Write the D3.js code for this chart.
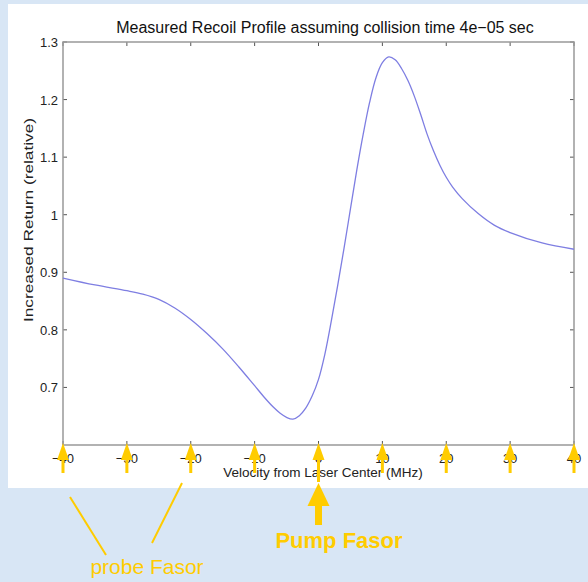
<!DOCTYPE html>
<html>
<head>
<meta charset="utf-8">
<script src="https://cdn.jsdelivr.net/npm/d3@7"></script>
<style>
  html, body { margin: 0; padding: 0; background: #d8e6f5; }
  svg { display: block; font-family: "Liberation Sans", Arial, Helvetica, sans-serif; }
</style>
</head>
<body>
<svg id="chart" width="588" height="582"></svg>
<script>
// recoil profile
const velocity = [-40, -35, -30, -27.5, -25, -22.5, -20, -17.5, -15, -12.5, -10, -8.5, -7, -6, -5, -4, -3, -2, -1, 0, 1, 2, 3, 4, 5, 6, 7, 8, 9, 10, 11, 12, 13, 14, 15, 16, 17, 18, 19, 20, 21, 22.5, 25, 27.5, 30, 35, 40];
const ret = [0.890, 0.878, 0.868, 0.862, 0.853, 0.838, 0.818, 0.794, 0.767, 0.736, 0.703, 0.683, 0.665, 0.655, 0.648, 0.645, 0.651, 0.664, 0.685, 0.714, 0.758, 0.815, 0.877, 0.942, 1.010, 1.078, 1.140, 1.195, 1.238, 1.264, 1.274, 1.269, 1.254, 1.233, 1.206, 1.174, 1.140, 1.111, 1.086, 1.065, 1.048, 1.028, 1.002, 0.982, 0.969, 0.951, 0.940];

const xTicks = [-40, -30, -20, -10, 0, 10, 20, 30, 40];
const yTicks = [0.7, 0.8, 0.9, 1, 1.1, 1.2, 1.3];

const svg = d3.select('#chart');
const gold = '#ffcc00';

// white panel behind the matlab figure
svg.append('rect')
  .attr('x', 8).attr('y', 4)
  .attr('width', 580).attr('height', 484)
  .attr('fill', '#fff');

const margin = { left: 63, right: 574, top: 42, bottom: 445 };
const x = d3.scaleLinear().domain([-40, 40]).range([margin.left, margin.right]);
const y = d3.scaleLinear().domain([0.6, 1.3]).range([margin.bottom, margin.top]);

const fmt = d => String(d).replace('-', '\u2212');

// tick marks, all four sides, pointing inward
const tickLen = 4;
const axes = svg.append('g').attr('stroke', '#555').attr('stroke-width', 1);
xTicks.forEach(v => {
  axes.append('line').attr('x1', x(v)).attr('x2', x(v)).attr('y1', margin.bottom).attr('y2', margin.bottom - tickLen);
  axes.append('line').attr('x1', x(v)).attr('x2', x(v)).attr('y1', margin.top).attr('y2', margin.top + tickLen);
});
yTicks.forEach(v => {
  axes.append('line').attr('x1', margin.left).attr('x2', margin.left + tickLen).attr('y1', y(v)).attr('y2', y(v));
  axes.append('line').attr('x1', margin.right).attr('x2', margin.right - tickLen).attr('y1', y(v)).attr('y2', y(v));
});

svg.append('rect')
  .attr('x', margin.left).attr('y', margin.top)
  .attr('width', margin.right - margin.left).attr('height', margin.bottom - margin.top)
  .attr('fill', 'none').attr('stroke', '#999').attr('stroke-width', 1.5);

// tick labels
svg.append('g').selectAll('text').data(yTicks).enter().append('text')
  .attr('x', margin.left - 5).attr('y', d => y(d) + 5)
  .attr('text-anchor', 'end').attr('font-size', 13).attr('fill', '#222')
  .text(d => fmt(d));

svg.append('g').selectAll('text').data(xTicks).enter().append('text')
  .attr('x', d => x(d)).attr('y', margin.bottom + 18)
  .attr('text-anchor', 'middle').attr('font-size', 13).attr('fill', '#222')
  .text(d => fmt(d));

// curve
const line = d3.line()
  .x(d => x(d[0]))
  .y(d => y(d[1]))
  .curve(d3.curveCatmullRom.alpha(0.5));

svg.append('path')
  .datum(d3.zip(velocity, ret))
  .attr('d', line)
  .attr('fill', 'none')
  .attr('stroke', '#7e7ee2')
  .attr('stroke-width', 1.3);

// titles
svg.append('text')
  .attr('x', 325).attr('y', 33)
  .attr('text-anchor', 'middle').attr('font-size', 16).attr('fill', '#111')
  .text('Measured Recoil Profile assuming collision time 4e\u221205 sec');

svg.append('text')
  .attr('x', 323).attr('y', 477)
  .attr('text-anchor', 'middle').attr('font-size', 13.5).attr('fill', '#222')
  .text('Velocity from Laser Center (MHz)');

svg.append('text')
  .attr('transform', 'translate(33,220) rotate(-90)')
  .attr('text-anchor', 'middle').attr('font-size', 13).attr('fill', '#222')
  .attr('textLength', 204).attr('lengthAdjust', 'spacingAndGlyphs')
  .text('Increased Return (relative)');

// small yellow arrows on every tick
const arrows = svg.append('g').attr('fill', gold);
xTicks.forEach(v => {
  const cx = x(v);
  const tail = v === 0 ? 482 : 473;
  arrows.append('path')
    .attr('d', `M${cx},${margin.bottom - 2} L${cx - 6},${margin.bottom + 15} L${cx + 6},${margin.bottom + 15} Z`);
  arrows.append('rect')
    .attr('x', cx - 1.5).attr('y', margin.bottom + 14)
    .attr('width', 3).attr('height', tail - margin.bottom - 14);
});

// big pump arrow
const px = x(0);
arrows.append('path').attr('d', `M${px},483 L${px - 11},506 L${px + 11},506 Z`);
arrows.append('rect').attr('x', px - 3.5).attr('y', 505).attr('width', 7).attr('height', 20);

svg.append('text')
  .attr('x', 339).attr('y', 548)
  .attr('text-anchor', 'middle').attr('font-size', 22).attr('font-weight', 'bold').attr('fill', gold)
  .text('Pump Fasor');

// probe label with leader lines
svg.append('line').attr('x1', 70).attr('y1', 497).attr('x2', 106).attr('y2', 555)
  .attr('stroke', gold).attr('stroke-width', 2);
svg.append('line').attr('x1', 182).attr('y1', 483).attr('x2', 152).attr('y2', 543)
  .attr('stroke', gold).attr('stroke-width', 2);

svg.append('text')
  .attr('x', 147).attr('y', 574)
  .attr('text-anchor', 'middle').attr('font-size', 21).attr('fill', gold)
  .text('probe Fasor');
</script>
</body>
</html>
